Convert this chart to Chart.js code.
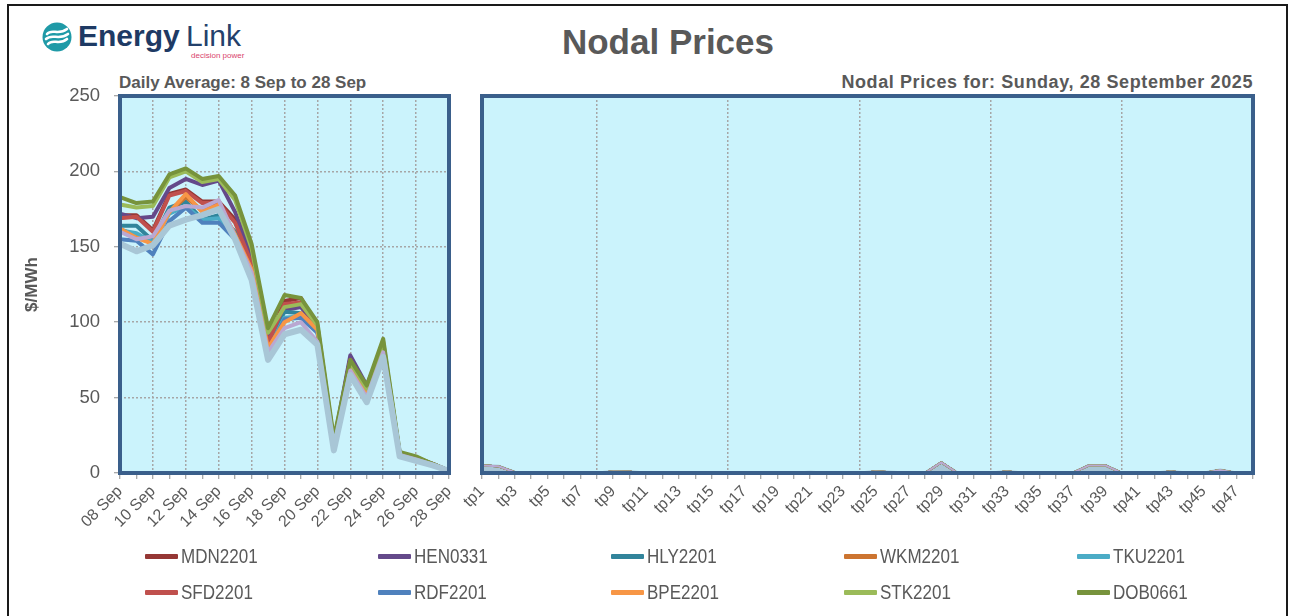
<!DOCTYPE html>
<html>
<head>
<meta charset="utf-8">
<script src="https://cdn.jsdelivr.net/npm/chart.js@4.4.0/dist/chart.umd.min.js"></script>
<style>
  html, body { margin: 0; padding: 0; background: #fff; }
  #page { position: relative; width: 1294px; height: 616px; overflow: hidden; font-family: "Liberation Sans", Arial, sans-serif; }
  #frame { position: absolute; left: 7px; top: 4px; width: 1277px; height: 700px; border: 2px solid #1a1a1a; }
  .txt { position: absolute; white-space: nowrap; line-height: 1; }
  #title { left: 0; width: 1336px; text-align: center; top: 24px; font-size: 35px; font-weight: bold; color: #595959; }
  #subLeft { left: 119px; top: 74px; font-size: 17px; font-weight: bold; color: #595959; }
  #subRight { right: 41px; top: 73px; font-size: 18px; font-weight: bold; color: #595959; letter-spacing: 0.6px; }
  #logoEnergy { left: 78px; top: 21px; font-size: 30px; font-weight: bold; color: #1e3a64; }
  #logoLink { left: 186px; top: 21px; font-size: 30px; color: #24416b; }
  #logoTag { left: 191px; top: 52px; font-size: 8px; color: #d9446d; }
  #logoIcon { position: absolute; left: 42px; top: 22px; }
  canvas { position: absolute; top: 0; }
  #dailyChart { left: 0; }
  #tpChart { left: 460px; }
  .lg-line { position: absolute; width: 33px; height: 5px; border-radius: 1px; }
  .lg-text { position: absolute; font-size: 20.5px; color: #595959; line-height: 20px; white-space: nowrap; transform: scaleX(0.83); transform-origin: 0 50%; }
</style>
</head>
<body>
<div id="page">
  <div id="frame"></div>
  <svg id="logoIcon" width="30" height="30" viewBox="0 0 30 30">
    <circle cx="15" cy="15" r="14.5" fill="#1f9aa7"/>
    <path d="M5 12 C10 6, 16 14, 25 7" stroke="#fff" stroke-width="2.6" fill="none" stroke-linecap="round"/>
    <path d="M4 17 C10 11, 17 19, 26 12" stroke="#fff" stroke-width="2.6" fill="none" stroke-linecap="round"/>
    <path d="M6 22 C11 16, 17 24, 25 17" stroke="#fff" stroke-width="2.6" fill="none" stroke-linecap="round"/>
  </svg>
  <div class="txt" id="logoEnergy">Energy</div>
  <div class="txt" id="logoLink">Link</div>
  <div class="txt" id="logoTag">decision power</div>
  <div class="txt" id="title">Nodal Prices</div>
  <div class="txt" id="subLeft">Daily Average: 8 Sep to 28 Sep</div>
  <div class="txt" id="subRight">Nodal Prices for: Sunday, 28 September 2025</div>
  <canvas id="dailyChart" width="470" height="616"></canvas>
  <canvas id="tpChart" width="834" height="616"></canvas>
  <div id="legend"></div>
</div>
<script>
const dailyLabels = ["08 Sep", "09 Sep", "10 Sep", "11 Sep", "12 Sep", "13 Sep", "14 Sep",
  "15 Sep", "16 Sep", "17 Sep", "18 Sep", "19 Sep", "20 Sep", "21 Sep", "22 Sep",
  "23 Sep", "24 Sep", "25 Sep", "26 Sep", "27 Sep", "28 Sep"];

const mdn2201 = [171, 171, 161, 185, 188, 180, 180, 168, 140, 87, 114, 116, 97, 19, 76, 56, 84, 13, 10, 6, 1.5];
const hen0331 = [172, 169, 170, 189, 195, 191, 194, 173, 144, 88, 108, 110, 97, 20, 78, 58, 85, 13, 10, 6, 1.5];
const hly2201 = [164, 164, 154, 176, 180, 168, 171, 160, 137, 85, 107, 106, 95, 18, 72, 54, 83, 12, 10, 6, 1.5];
const wkm2201 = [162, 157, 152, 173, 183, 174, 178, 158, 135, 83, 101, 105, 95, 18, 70, 53, 82, 12, 9, 5.5, 1.5];
const tku2201 = [161, 159, 153, 172, 177, 168, 169, 157, 134, 82, 103, 104, 94, 17, 70, 52, 82, 12, 9, 5.5, 1.5];
const sfd2201 = [169, 170, 160, 184, 187, 179, 179, 166, 139, 86, 112, 113, 96, 19, 75, 55, 84, 13, 10, 6, 1.5];
const rdf2201 = [155, 154, 145, 167, 176, 166, 166, 155, 132, 80, 102, 103, 93, 17, 69, 51, 81, 12, 9, 5.5, 1.5];
const bpe2201 = [162, 156, 152, 173, 185, 173, 178, 158, 135, 83, 100, 106, 95, 18, 70, 53, 81, 12, 8.5, 5.5, 1.5];
const stk2201 = [178, 176, 177, 196, 200, 193, 195, 181, 149, 93, 110, 112, 98, 21, 73, 56, 87, 13, 10.5, 6, 1.5];
const dob0661 = [183, 179, 180, 198, 202, 195, 197, 184, 152, 96, 118, 116, 100, 23, 75, 58, 89, 14, 11, 6, 1.5];
// two more nodes are plotted but their legend rows are cut off below the frame
const nodeLavender = [160, 155, 157, 174, 177, 176, 181, 157, 133, 80, 96, 100, 87, 16, 68, 50, 80, 12, 9, 5.5, 1.5];
const nodeGrey = [152, 147, 151, 164, 168, 171, 175, 155, 128, 75, 92, 95, 85, 15, 65, 47, 77, 11, 8, 5, 1.5];

const tpLabels = ["tp1", "tp2", "tp3", "tp4", "tp5", "tp6", "tp7", "tp8", "tp9", "tp10", "tp11", "tp12",
  "tp13", "tp14", "tp15", "tp16", "tp17", "tp18", "tp19", "tp20", "tp21", "tp22", "tp23", "tp24",
  "tp25", "tp26", "tp27", "tp28", "tp29", "tp30", "tp31", "tp32", "tp33", "tp34", "tp35", "tp36",
  "tp37", "tp38", "tp39", "tp40", "tp41", "tp42", "tp43", "tp44", "tp45", "tp46", "tp47", "tp48"];
const tpPrice = [5, 4.5, 0.5, 0, 0, 0, 0, 0, 1, 0.8, 0, 0,
  0, 0, 0, 0, 0, 0, 0, 0, 0.5, 0, 0, 0,
  1, 0.5, 0, 0, 7, 0, 0, 0, 1, 0, 0, 0,
  0, 5, 5, 0, 0, 0, 1, 0, 0, 2, 0, 0];

const series = [
  { name: "MDN2201", color: "#953735", daily: mdn2201 },
  { name: "HEN0331", color: "#64498a", daily: hen0331 },
  { name: "HLY2201", color: "#31849b", daily: hly2201 },
  { name: "WKM2201", color: "#cc7430", daily: wkm2201 },
  { name: "TKU2201", color: "#4bacc6", daily: tku2201 },
  { name: "SFD2201", color: "#c0504d", daily: sfd2201 },
  { name: "RDF2201", color: "#4f81bd", daily: rdf2201 },
  { name: "BPE2201", color: "#f79646", daily: bpe2201 },
  { name: "STK2201", color: "#9bbb59", daily: stk2201 },
  { name: "DOB0661", color: "#77933c", daily: dob0661 },
  { name: "", color: "#b9a8d2", daily: nodeLavender, hidden: true },
  { name: "", color: "#a8c6d6", daily: nodeGrey, hidden: true, wide: true }
];

const textGrey = "#595959";
const gridGrey = "#a6a6a6";
const tickGrey = "#8c8c8c";
const plotFill = "#cbf3fc";
const frameBlue = "#3a5f8b";

const plotFrame = {
  id: "plotFrame",
  beforeDraw(chart) {
    const { ctx, chartArea: a } = chart;
    ctx.save();
    ctx.fillStyle = plotFill;
    ctx.fillRect(a.left, a.top, a.right - a.left, a.bottom - a.top);
    ctx.restore();
  },
  afterDatasetsDraw(chart) {
    const { ctx, chartArea: a } = chart;
    ctx.save();
    ctx.strokeStyle = frameBlue;
    ctx.lineWidth = 4;
    ctx.strokeRect(a.left, a.top, a.right - a.left, a.bottom - a.top);
    ctx.restore();
  }
};

const n = series.length;

const dailyChart = new Chart(document.getElementById("dailyChart"), {
  type: "line",
  data: {
    labels: dailyLabels,
    datasets: series.map((s, i) => ({
      label: s.name,
      data: s.daily,
      borderColor: s.color,
      borderWidth: s.wide ? 6 : 4,
      borderJoinStyle: "round",
      order: n - i,
      pointRadius: 0,
      tension: 0
    }))
  },
  options: {
    responsive: false,
    animation: false,
    layout: { padding: { top: 96, left: 22, right: 21, bottom: 0 } },
    plugins: { legend: { display: false }, tooltip: { enabled: false } },
    scales: {
      x: {
        ticks: {
          autoSkip: false, maxRotation: 45, minRotation: 45, padding: 3,
          color: textGrey, font: { size: 16, family: "Liberation Sans" },
          callback: (v, i) => (i % 2 === 0 ? dailyLabels[i] : "")
        },
        grid: {
          color: (ctx) => (ctx.index % 2 === 0 && ctx.index > 0 && ctx.index < dailyLabels.length - 1 ? gridGrey : "transparent"),
          lineWidth: 1.5, tickLength: 6, tickColor: tickGrey, tickWidth: 1, tickBorderDash: []
        },
        border: { display: false, dash: [2, 2] },
        afterFit(scale) { scale.height = 616 - 473; }
      },
      y: {
        min: 0, max: 250,
        ticks: { stepSize: 50, padding: 14, color: textGrey, font: { size: 18.5, family: "Liberation Sans" } },
        grid: { color: gridGrey, lineWidth: 1.5, tickLength: 6, tickColor: tickGrey, tickWidth: 1, tickBorderDash: [] },
        border: { display: false, dash: [2, 2] },
        title: { display: true, text: "$/MWh", color: textGrey, padding: 0, font: { size: 17, weight: "bold", family: "Liberation Sans" } },
        afterFit(scale) { scale.width = 98; }
      }
    }
  },
  plugins: [plotFrame]
});

const tpChart = new Chart(document.getElementById("tpChart"), {
  type: "line",
  data: {
    labels: tpLabels,
    datasets: series.map((s, i) => ({
      label: s.name,
      data: tpPrice,
      borderColor: s.color,
      borderWidth: s.wide ? 3 : 2,
      borderJoinStyle: "round",
      backgroundColor: s.wide ? "#a8c6d6" : "transparent",
      fill: s.wide ? "origin" : false,
      order: s.wide ? n + 1 : n - i,
      pointRadius: 0,
      tension: 0
    }))
  },
  options: {
    responsive: false,
    animation: false,
    layout: { padding: { top: 96, left: 22, right: 41, bottom: 0 } },
    plugins: { legend: { display: false }, tooltip: { enabled: false } },
    scales: {
      x: {
        ticks: {
          autoSkip: false, maxRotation: 45, minRotation: 45, padding: 3,
          color: textGrey, font: { size: 16, family: "Liberation Sans" },
          callback: (v, i) => (i % 2 === 0 ? tpLabels[i] : "")
        },
        grid: {
          color: (ctx) => ((ctx.index + 1) % 8 === 0 && ctx.index < tpLabels.length - 1 ? gridGrey : "transparent"),
          lineWidth: 1.5, tickLength: 6, tickColor: tickGrey, tickWidth: 1, tickBorderDash: []
        },
        border: { display: false, dash: [2, 2] },
        afterFit(scale) { scale.height = 616 - 473; }
      },
      y: { display: false, min: 0, max: 250 }
    }
  },
  plugins: [plotFrame]
});

const legendBox = document.getElementById("legend");
series.filter((s) => !s.hidden).forEach((s, i) => {
  const col = i % 5;
  const row = Math.floor(i / 5);
  const x = 145 + col * 233;
  const y = 556 + row * 36;
  const line = document.createElement("div");
  line.className = "lg-line";
  line.style.left = x + "px";
  line.style.top = (y - 2) + "px";
  line.style.background = s.color;
  legendBox.appendChild(line);
  const label = document.createElement("div");
  label.className = "lg-text";
  label.style.left = (x + 36) + "px";
  label.style.top = (y - 10) + "px";
  label.textContent = s.name;
  legendBox.appendChild(label);
});
</script>
</body>
</html>
